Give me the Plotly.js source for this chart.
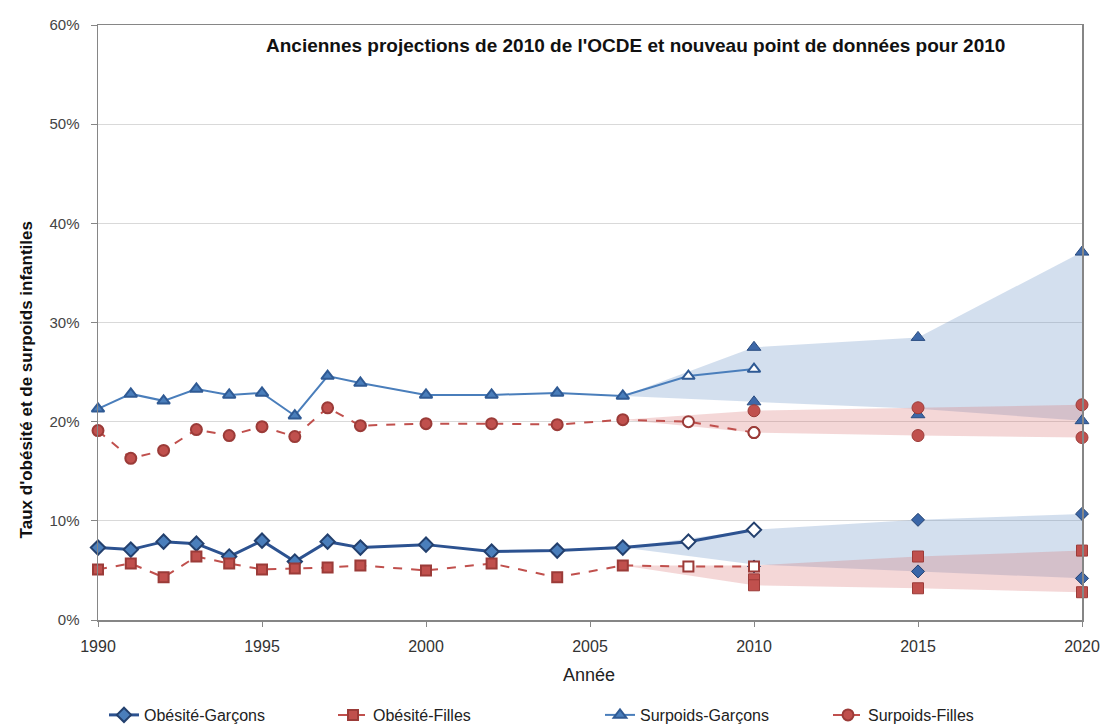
<!DOCTYPE html>
<html>
<head>
<meta charset="utf-8">
<script src="https://cdn.plot.ly/plotly-3.0.1.min.js"></script>
<style>html,body{margin:0;padding:0;background:#fff;}#chart{width:1103px;height:724px;}</style>
</head>
<body>
<div id="chart"></div>
<script>
// Observed years (2008 and 2010 are the new data points, drawn open)
const years = [1990,1991,1992,1993,1994,1995,1996,1997,1998,2000,2002,2004,2006,2008,2010];
const obesiteGarcons  = [7.3,7.1,7.9,7.7,6.4,8.0,5.9,7.9,7.3,7.6,6.9,7.0,7.3,7.9,9.1];
const obesiteFilles   = [5.1,5.7,4.3,6.4,5.7,5.1,5.2,5.3,5.5,5.0,5.7,4.3,5.5,5.4,5.4];
const surpoidsGarcons = [21.3,22.8,22.1,23.3,22.7,22.9,20.6,24.6,23.9,22.7,22.7,22.9,22.6,24.6,25.3];
const surpoidsFilles  = [19.1,16.3,17.1,19.2,18.6,19.5,18.5,21.4,19.6,19.8,19.8,19.7,20.2,20.0,18.9];
const firstNewYear = 2008;

// Old OECD projections (high / low scenario)
const projYears = [2010,2015,2020];
const projOGHigh = [9.1,10.1,10.7];
const projOGLow  = [5.4,4.9,4.2];
const projOFHigh = [4.1,6.4,7.0];
const projOFLow  = [3.5,3.2,2.8];
const projSGHigh = [27.5,28.5,37.1];
const projSGLow  = [22.0,20.7,20.1];
const projSFHigh = [21.1,21.4,21.7];
const projSFLow  = [18.9,18.6,18.4];

// Projection bands, starting from 2006
const bandStartYear = 2006;
const bandOGStart = 7.3, bandOGHigh = [9.1,10.1,10.7], bandOGLow = [5.6,4.9,4.2];
const bandOFStart = 5.5, bandOFHigh = [5.5,6.4,7.0],  bandOFLow = [3.5,3.2,2.8];
const bandSGStart = 22.6, bandSGHigh = [27.5,28.5,37.1], bandSGLow = [22.0,21.3,20.1];
const bandSFStart = 20.2, bandSFHigh = [21.1,21.4,21.7], bandSFLow = [18.9,18.6,18.4];

const seriesNames = ['Obésité-Garçons','Obésité-Filles','Surpoids-Garçons','Surpoids-Filles'];
const xTicks = [1990,1995,2000,2005,2010,2015,2020];

const BLUE = '#4a7ebb', NAVY = '#2c5290', RED = '#c0504d', DKRED = '#9b3b38';
const BAND_BLUE = 'rgba(108,148,200,0.30)';
const BAND_RED = 'rgba(214,112,110,0.28)';

function band(start, hi, lo, fill) {
  const x = [bandStartYear].concat(projYears, projYears.slice().reverse());
  const y = [start].concat(hi, lo.slice().reverse());
  return {x: x, y: y, type: 'scatter', mode: 'lines', fill: 'toself', fillcolor: fill,
          line: {width: 0}, hoverinfo: 'skip', showlegend: false};
}
function fills(col) { return years.map(y => y >= firstNewYear ? '#ffffff' : col); }

function series(name, vals, lineColor, lineW, dash, sym, size, fillCol, edgeCol, legendId) {
  return {x: years, y: vals, name: name, type: 'scatter', mode: 'lines+markers',
          line: {color: lineColor, width: lineW, dash: dash},
          marker: {symbol: sym, size: size, color: fills(fillCol), line: {color: edgeCol, width: 2}},
          cliponaxis: false, legend: legendId};
}
function proj(hi, lo, sym, size, col, edge) {
  return {x: projYears.concat(projYears), y: hi.concat(lo), type: 'scatter', mode: 'markers',
          marker: {symbol: sym, size: size, color: col, line: {color: edge, width: 1}},
          showlegend: false, cliponaxis: false, hoverinfo: 'x+y'};
}

const data = [
  band(bandSGStart, bandSGHigh, bandSGLow, BAND_BLUE),
  band(bandSFStart, bandSFHigh, bandSFLow, BAND_RED),
  band(bandOGStart, bandOGHigh, bandOGLow, BAND_BLUE),
  band(bandOFStart, bandOFHigh, bandOFLow, BAND_RED),
  proj(projOGHigh, projOGLow, 'diamond', 10, '#3a66a8', '#23406e'),
  proj(projOFHigh, projOFLow, 'square', 11, RED, DKRED),
  proj(projSGHigh, projSGLow, 'triangle-up', 12, '#3d68a8', '#2a4c80'),
  proj(projSFHigh, projSFLow, 'circle', 12, RED, DKRED),
  series(seriesNames[0], obesiteGarcons, NAVY, 3, 'solid', 'diamond', 11, BLUE, '#23406e', 'legend'),
  series(seriesNames[1], obesiteFilles, RED, 2, 'dash', 'square', 10, RED, DKRED, 'legend2'),
  series(seriesNames[2], surpoidsGarcons, BLUE, 2, 'solid', 'triangle-up', 11, BLUE, '#2f5a94', 'legend3'),
  series(seriesNames[3], surpoidsFilles, RED, 2, 'dash', 'circle', 11, RED, DKRED, 'legend4')
];

const FONT = '"Liberation Sans", Arial, sans-serif';

function leg(px) {
  return {orientation: 'h', xref: 'container', yref: 'container', x: px / 1103, xanchor: 'left',
          y: 1 - 715 / 724, yanchor: 'middle', bgcolor: 'rgba(0,0,0,0)',
          font: {family: FONT, size: 16, color: '#222'}};
}

const layout = {
  width: 1103, height: 724,
  margin: {l: 98, r: 21, t: 25, b: 104, autoexpand: false},
  paper_bgcolor: '#ffffff', plot_bgcolor: '#ffffff',
  font: {family: FONT, size: 12, color: '#222'},
  showlegend: true,
  legend: leg(104), legend2: leg(333), legend3: leg(600), legend4: leg(828),
  xaxis: {range: [1990, 2020], tickvals: xTicks,
          ticks: 'outside', ticklen: 5, tickcolor: '#868686', ticklabelstandoff: 6,
          tickfont: {size: 16, color: '#333'},
          showgrid: false, zeroline: false, showline: true, linecolor: '#868686', linewidth: 1.5, mirror: true},
  yaxis: {range: [0, 60], dtick: 10, ticksuffix: '%', ticks: 'outside', ticklen: 6, tickcolor: '#868686',
          ticklabelstandoff: 8, tickfont: {size: 15, color: '#444'},
          showgrid: true, gridcolor: '#d9d9d9', zeroline: false, showline: true, linecolor: '#868686', linewidth: 1.5, mirror: true},
  annotations: [
    {text: "<b>Anciennes projections de 2010 de l'OCDE et nouveau point de données pour 2010</b>",
     xref: 'paper', yref: 'paper', x: 0.546, y: 0.966, xanchor: 'center', yanchor: 'middle',
     showarrow: false, font: {family: FONT, size: 19, color: '#111'}},
    {text: "<b>Taux d'obésité et de surpoids infantiles</b>", textangle: -90,
     xref: 'paper', yref: 'paper', x: -0.073, y: 0.403, xanchor: 'center', yanchor: 'middle',
     showarrow: false, font: {family: FONT, size: 17, color: '#111'}},
    {text: 'Année', xref: 'paper', yref: 'paper', x: 0.499, y: -0.092, xanchor: 'center', yanchor: 'middle',
     showarrow: false, font: {family: FONT, size: 18, color: '#222'}}
  ]
};

Plotly.newPlot('chart', data, layout, {displayModeBar: false, staticPlot: true});
</script>
</body>
</html>
